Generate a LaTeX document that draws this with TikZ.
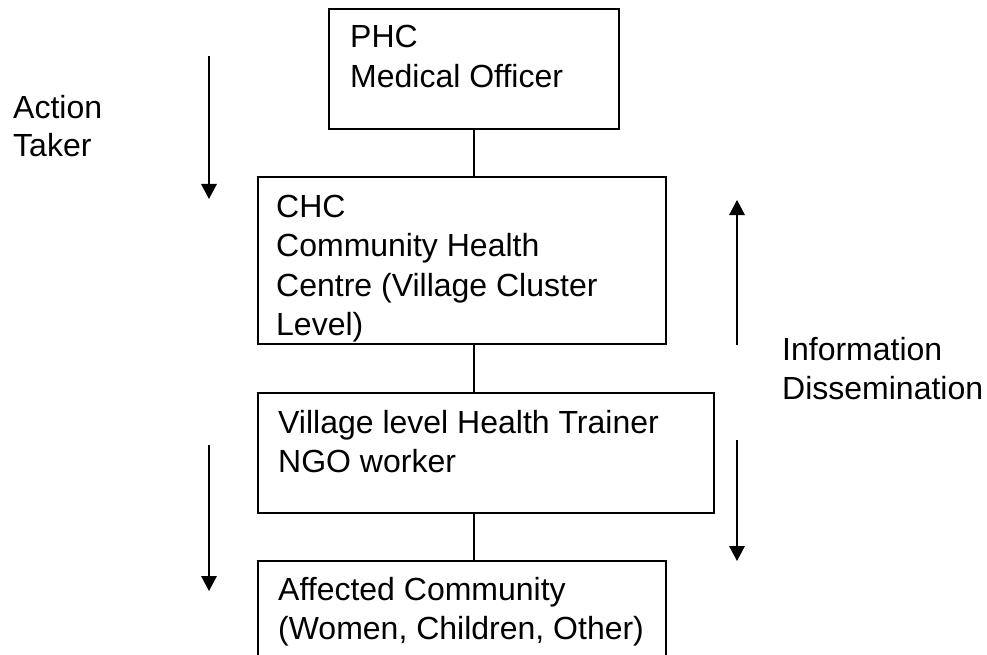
\documentclass[tikz,border=0pt]{standalone}
\usepackage{fontspec}
\setmainfont{Liberation Sans}
\usetikzlibrary{arrows.meta}

\tikzset{
  box/.style={draw=black, line width=1.6pt, rectangle, inner sep=0pt, anchor=north west},
  % text blocks are placed by the baseline of their last line
  lbl/.style={align=left, inner sep=0pt, anchor=base west,
              font=\fontsize{32}{39.5}\selectfont},
  link/.style={draw=black, line width=1.6pt},
  flow/.style={draw=black, line width=1.6pt,
               -{Triangle[width=15.5pt,length=15pt]}}
}

\begin{document}
\begin{tikzpicture}[x=1pt, y=-1pt]
  \useasboundingbox (0,0) rectangle (987,655);
  \clip (0,0) rectangle (987,655);
  \fill[white] (0,0) rectangle (987,655);

  % hierarchy boxes
  \node[box, minimum width=290pt, minimum height=120pt] (phc) at (328,8) {};
  \node[box, minimum width=408pt, minimum height=167pt] (chc) at (257,176) {};
  \node[box, minimum width=456pt, minimum height=120pt] (vlt) at (257,392) {};
  \node[box, minimum width=408pt, minimum height=140pt] (aff) at (257,560) {};

  % box texts
  \node[lbl] (phct) at (350,87.5) {PHC\\Medical Officer};
  \node[lbl] (chct) at (276,335.5) {CHC\\Community Health\\Centre (Village Cluster\\Level)};
  \node[lbl] (vltt) at (278,472.5) {Village level Health Trainer\\NGO worker};
  \node[lbl] (afft) at (278,639.5) {Affected Community\\(Women, Children, Other)};

  % vertical links between levels
  \draw[link] (phc.south) -- (phc.south |- chc.north);
  \draw[link] (phc.south |- chc.south) -- (phc.south |- vlt.north);
  \draw[link] (phc.south |- vlt.south) -- (phc.south |- aff.north);

  % side labels
  \node[lbl, font=\fontsize{32}{37.5}\selectfont] (act) at (13,156.5) {Action\\Taker};
  \node[lbl] (info) at (782,399.5) {Information\\Dissemination};

  % direction arrows
  \coordinate (la1) at (209,56);
  \coordinate (lb1) at (209,199);
  \coordinate (la2) at (209,445);
  \coordinate (lb2) at (209,591);
  \coordinate (ra1) at (737,345);
  \coordinate (rb1) at (737,200);
  \coordinate (ra2) at (737,440);
  \coordinate (rb2) at (737,561);
  \draw[flow] (la1) -- (lb1);
  \draw[flow] (la2) -- (lb2);
  \draw[flow] (ra1) -- (rb1);
  \draw[flow] (ra2) -- (rb2);
\end{tikzpicture}
\end{document}
